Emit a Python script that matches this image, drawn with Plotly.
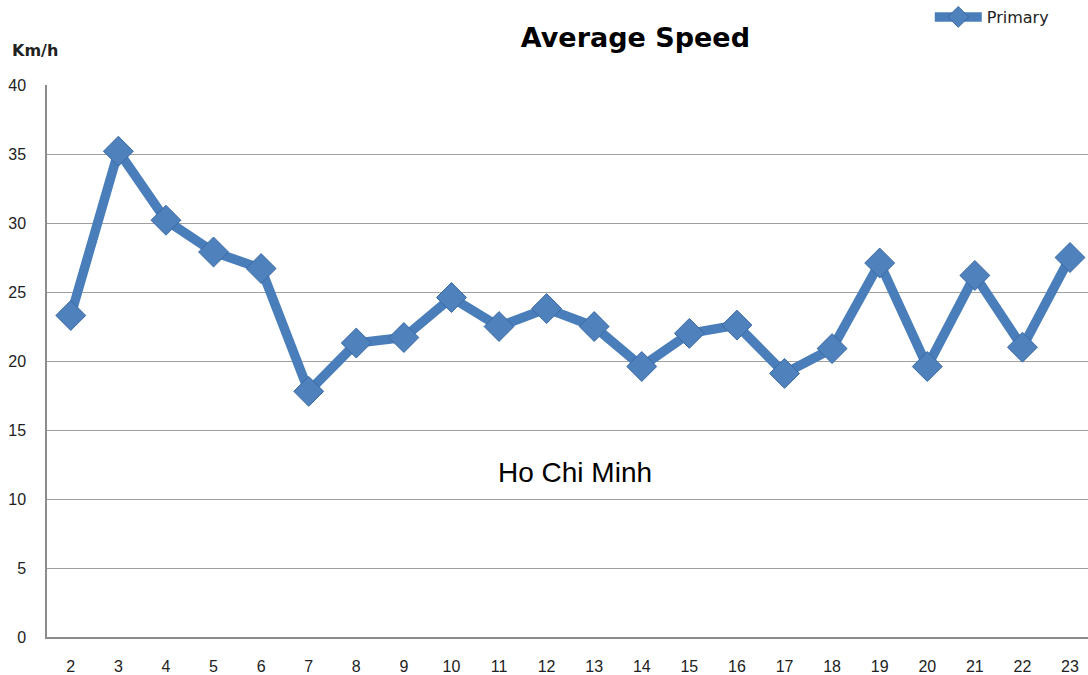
import plotly.graph_objects as go

hours = [2, 3, 4, 5, 6, 7, 8, 9, 10, 11, 12, 13, 14, 15, 16, 17, 18, 19, 20, 21, 22, 23]
speed = [23.3, 35.2, 30.2, 27.9, 26.7, 17.8, 21.3, 21.7, 24.6, 22.5, 23.8, 22.5,
         19.6, 22.0, 22.6, 19.1, 20.9, 27.1, 19.6, 26.2, 21.0, 27.5]
y_ticks = [0, 5, 10, 15, 20, 25, 30, 35, 40]

blue = "#4A7EBB"

fig = go.Figure()
fig.add_trace(go.Scatter(
    x=hours, y=speed, mode="lines+markers", name="Primary",
    line=dict(color=blue, width=9.5),
    marker=dict(symbol="diamond", size=23, color="#4F81BD",
                line=dict(color="#3A6AA5", width=1)),
))

fig.update_layout(
    width=1088, height=675,
    margin=dict(l=47, r=0, t=85, b=38, autoexpand=False),
    paper_bgcolor="white", plot_bgcolor="white",
    title=dict(text="<b>Average Speed</b>", x=0.584, xanchor="center", y=0.944, yanchor="middle",
               font=dict(family="DejaVu Sans", size=27, color="black")),
    showlegend=True,
    legend=dict(x=0.848, y=1.0, xanchor="left", yanchor="top", yref="container", xref="paper",
                font=dict(family="DejaVu Sans", size=16, color="#222"),
                bgcolor="rgba(0,0,0,0)", itemwidth=47),
    xaxis=dict(range=[1.5, 23.378], tickmode="array", tickvals=hours,
               ticktext=[str(h) for h in hours], showgrid=False, showline=True,
               linecolor="#8C8C8C", linewidth=1.5, zeroline=False, ticks="",
               ticklabelstandoff=14, automargin=False,
               tickfont=dict(family="Liberation Sans", size=16, color="#222")),
    yaxis=dict(range=[0, 40], tickmode="array", tickvals=y_ticks,
               showgrid=True, gridcolor="#A0A0A0", gridwidth=1.3, showline=True,
               linecolor="#8C8C8C", linewidth=1.5, zeroline=False, ticks="",
               ticklabelstandoff=16, automargin=False,
               tickfont=dict(family="Liberation Sans", size=16, color="#222")),
    annotations=[
        dict(text="<b>Km/h</b>", x=(10 - 47) / 1041, y=(637 - 50) / 552, xref="paper", yref="paper",
             showarrow=False, xanchor="left", yanchor="middle",
             font=dict(family="DejaVu Sans", size=16, color="#222")),
        dict(text="Ho Chi Minh", x=12.6, y=11.9, xref="x", yref="y", showarrow=False,
             xanchor="center", yanchor="middle",
             font=dict(family="Liberation Sans", size=28, color="black")),
    ],
)

fig.write_html("out.html", config={"displayModeBar": False})
with open("out.html", "r", encoding="utf-8") as f:
    html = f.read()
html = html.replace("<head>", "<head><style>html,body{margin:0;padding:0;overflow:hidden;}</style>", 1)
with open("out.html", "w", encoding="utf-8") as f:
    f.write(html)
